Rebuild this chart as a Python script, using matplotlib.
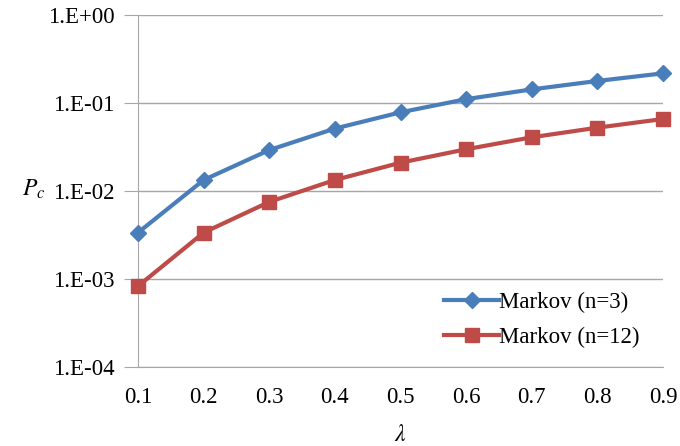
import numpy as np
import matplotlib.pyplot as plt
from matplotlib.ticker import FixedLocator, NullLocator

# Données
lam = [0.1, 0.2, 0.3, 0.4, 0.5, 0.6, 0.7, 0.8, 0.9]
pc_n3 = [3.36e-3, 1.33e-2, 2.91e-2, 5.1e-2, 7.8e-2, 0.110, 0.142, 0.177, 0.216]
pc_n12 = [8.3e-4, 3.36e-3, 7.5e-3, 1.33e-2, 2.09e-2, 2.97e-2, 4.06e-2, 5.22e-2, 6.55e-2]
ytick_vals = [1e-4, 1e-3, 1e-2, 1e-1, 1e0]
ytick_labels = ['1.E-04', '1.E-03', '1.E-02', '1.E-01', '1.E+00']

plt.rcParams['font.family'] = ['Liberation Serif', 'DejaVu Serif']
plt.rcParams['mathtext.fontset'] = 'stix'

fig = plt.figure(figsize=(6.8, 4.46), dpi=100)
ax = fig.add_axes([0.203, 0.177, 0.772, 0.790])

grid_c = '#a6a6a6'
ax.plot(lam, pc_n3, color='#4a7ebb', lw=3, marker='D', ms=8.5,
        label='Markov (n=3)', clip_on=False, zorder=3)
ax.plot(lam, pc_n12, color='#be4b48', lw=3, marker='s', ms=9.5,
        label='Markov (n=12)', clip_on=False, zorder=3)

ax.set_yscale('log')
ax.set_ylim(1e-4, 1e0)
ax.set_xlim(0.1, 0.9)
ax.yaxis.set_major_locator(FixedLocator(ytick_vals))
ax.yaxis.set_minor_locator(NullLocator())
ax.set_yticklabels(ytick_labels)
ax.set_xticks(lam)
ax.set_xticklabels([f'{v:.1f}' for v in lam])

ax.grid(True, axis='y', color=grid_c, lw=1)
for s in ['top', 'right']:
    ax.spines[s].set_visible(False)
for s in ['left', 'bottom']:
    ax.spines[s].set_color(grid_c)
ax.tick_params(axis='y', length=10, color=grid_c, labelsize=16.5, pad=7)
ax.tick_params(axis='x', length=0, labelsize=16.5, pad=14)

ax.set_ylabel('$P_c$', fontsize=17, rotation=0)
ax.yaxis.set_label_coords(-0.198, 0.47)
ax.set_xlabel(r'$\lambda$', fontsize=17)
ax.xaxis.set_label_coords(0.5, -0.165)

ax.legend(loc='lower right', bbox_to_anchor=(0.995, -0.005), frameon=False,
          fontsize=16.5, handlelength=2.4, handletextpad=0.0, labelspacing=0.6)

fig.savefig('out.png', dpi=100)
